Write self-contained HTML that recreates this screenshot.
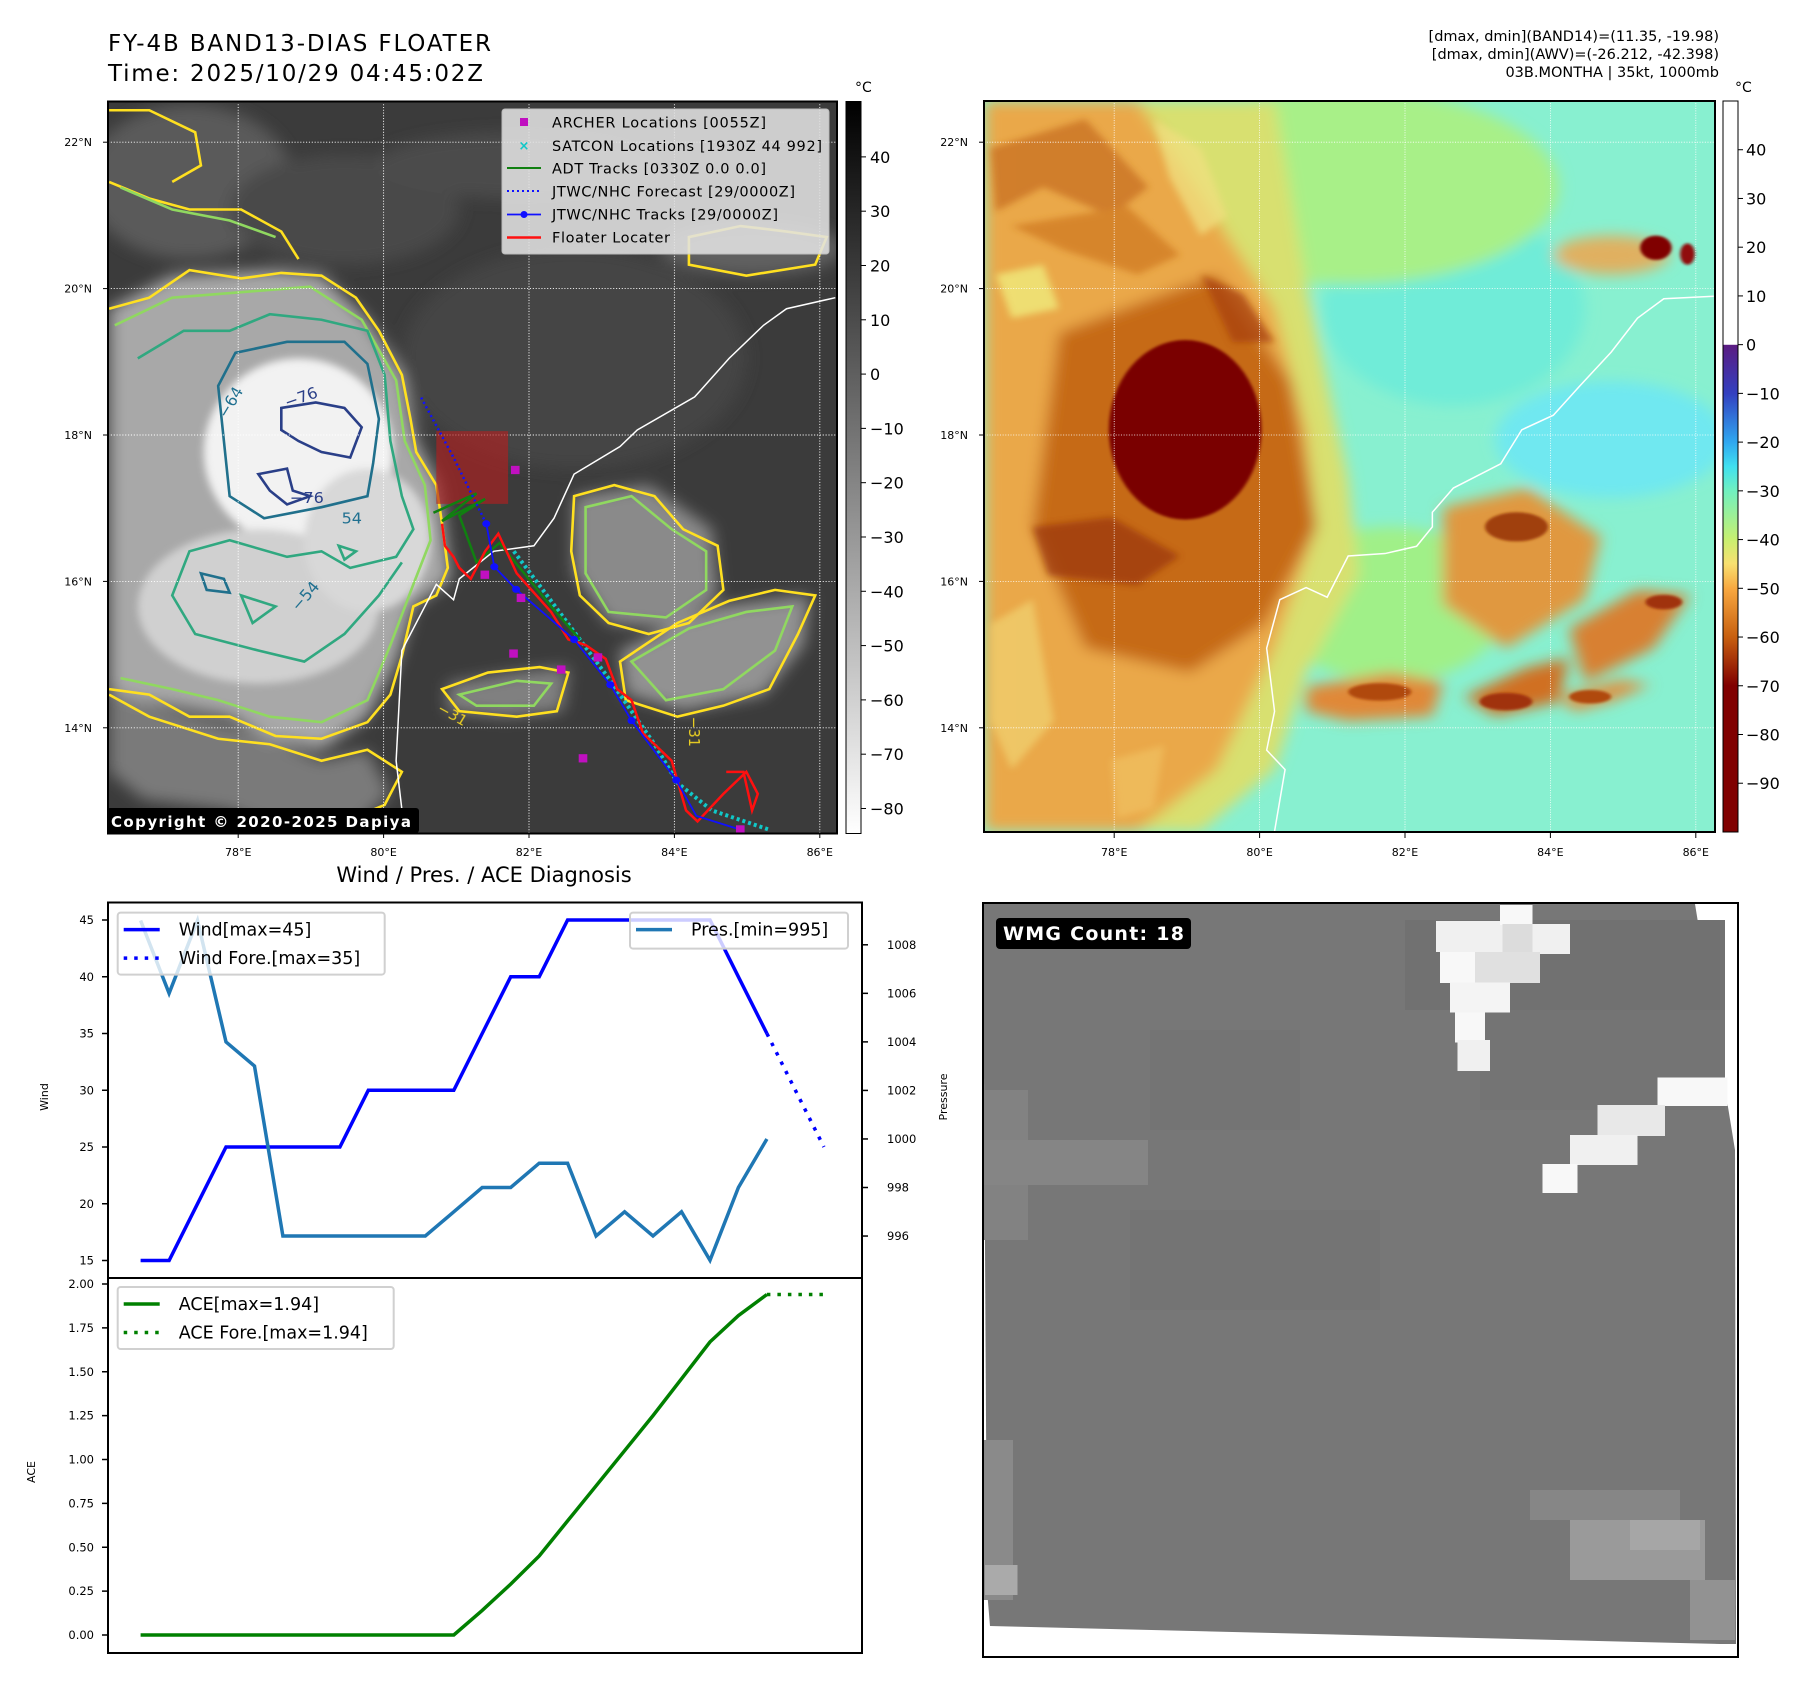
<!DOCTYPE html>
<html><head><meta charset="utf-8"><title>FY-4B Floater</title>
<style>
html,body{margin:0;padding:0;background:#fff;}
svg{display:block;font-family:"DejaVu Sans","Liberation Sans",sans-serif;}
</style></head>
<body>
<svg id="root" width="1801" height="1690" viewBox="0 0 1801 1690" xmlns="http://www.w3.org/2000/svg">
<defs>
  <filter id="blurL" x="-50%" y="-50%" width="200%" height="200%"><feGaussianBlur stdDeviation="14"/></filter>
  <filter id="blurM" x="-50%" y="-50%" width="200%" height="200%"><feGaussianBlur stdDeviation="7"/></filter>
  <filter id="blurS" x="-50%" y="-50%" width="200%" height="200%"><feGaussianBlur stdDeviation="3"/></filter>
  <linearGradient id="grayBar" x1="0" y1="0" x2="0" y2="1">
    <stop offset="0" stop-color="#000"/><stop offset="1" stop-color="#fff"/>
  </linearGradient>
  <linearGradient id="colorBar" x1="0" y1="0" x2="0" y2="1">
    <stop offset="0" stop-color="#fff"/><stop offset="0.333" stop-color="#fff"/>
    <stop offset="0.334" stop-color="#5b1c82"/><stop offset="0.40" stop-color="#3340c0"/>
    <stop offset="0.467" stop-color="#30a8f0"/><stop offset="0.50" stop-color="#40e0f0"/>
    <stop offset="0.533" stop-color="#70f0c0"/><stop offset="0.60" stop-color="#c8f070"/>
    <stop offset="0.633" stop-color="#f8e070"/><stop offset="0.667" stop-color="#f8a840"/>
    <stop offset="0.733" stop-color="#c86010"/><stop offset="0.80" stop-color="#800000"/>
    <stop offset="1" stop-color="#800000"/>
  </linearGradient>
  <clipPath id="clipL"><rect x="188" y="184" width="1270" height="1328"/></clipPath>
  <clipPath id="clipR"><rect x="8" y="22" width="1390" height="1505"/></clipPath>
  <clipPath id="clipW"><rect x="6" y="26" width="1510" height="1508"/></clipPath>
</defs>

<!-- Titles -->
<text x="108" y="51" font-size="23" textLength="383">FY-4B BAND13-DIAS FLOATER</text>
<text x="108" y="81" font-size="23" textLength="375">Time: 2025/10/29 04:45:02Z</text>
<g font-size="14.5" text-anchor="end">
  <text x="1719" y="41">[dmax, dmin](BAND14)=(11.35, -19.98)</text>
  <text x="1719" y="59">[dmax, dmin](AWV)=(-26.212, -42.398)</text>
  <text x="1719" y="77">03B.MONTHA | 35kt, 1000mb</text>
</g>

<!-- LEFT MAP -->
<g transform="scale(0.5741,0.5513)">
 <g clip-path="url(#clipL)">
  <rect x="188" y="184" width="1270" height="1328" fill="#3b3b3b"/>
  <g filter="url(#blurL)">
    <ellipse cx="330" cy="330" rx="180" ry="140" fill="#5a5a5a"/>
    <ellipse cx="1310" cy="450" rx="160" ry="50" fill="#606060"/>
    <ellipse cx="1000" cy="650" rx="300" ry="200" fill="#444"/>
    <ellipse cx="600" cy="380" rx="200" ry="100" fill="#4a4a4a"/>
    <ellipse cx="900" cy="300" rx="250" ry="60" fill="#4c4c4c"/>
    <path d="M190,560 L300,500 L480,490 L560,500 L640,580 L700,680 L725,800 L765,880 L775,960 L785,1050 L720,1100 L690,1200 L640,1300 L560,1360 L470,1340 L400,1300 L300,1280 L190,1260 Z" fill="#a8a8a8"/>
    <path d="M190,1250 L300,1290 L450,1330 L560,1380 L640,1360 L680,1440 L620,1500 L500,1510 L400,1470 L250,1450 L190,1400 Z" fill="#7a7a7a"/>
    <path d="M1000,900 L1130,880 L1240,960 L1250,1080 L1180,1140 L1060,1130 L1000,1040 Z" fill="#8a8a8a"/>
    <path d="M1080,1180 L1250,1100 L1410,1080 L1400,1170 L1330,1260 L1190,1290 L1090,1260 Z" fill="#929292"/>
    <path d="M780,1240 L900,1220 L990,1210 L980,1290 L880,1300 L780,1290 Z" fill="#808080"/>
  </g>
  <g filter="url(#blurM)">
    <ellipse cx="520" cy="820" rx="165" ry="170" fill="#f2f2f2"/>
    <ellipse cx="450" cy="1100" rx="210" ry="140" fill="#d0d0d0"/>
    <ellipse cx="640" cy="980" rx="110" ry="130" fill="#d8d8d8"/>
  </g>
  <g fill="none" stroke-width="2.6" vector-effect="non-scaling-stroke">
    <path vector-effect="non-scaling-stroke" stroke="#ffe020" d="M190,560 L260,540 L330,490 L420,505 L490,495 L560,500 L620,540 L660,600 L700,680 L715,760 L725,820 L760,880 L770,950 L780,1030 L760,1080 L720,1100 L700,1190 L680,1260 L640,1310 L560,1340 L480,1335 L400,1300 L330,1300 L260,1260 L190,1250 M190,330 L260,360 L330,380 L420,380 L490,420 L520,470 M190,1260 L260,1300 L380,1340 L470,1350 L560,1380 L640,1360 L700,1400 L670,1460 L600,1490 L530,1500 M1000,900 L1070,880 L1140,900 L1190,960 L1250,990 L1260,1070 L1200,1130 L1130,1150 L1060,1130 L1010,1080 L995,1000 Z M1080,1200 L1180,1130 L1270,1090 L1350,1070 L1420,1080 L1390,1150 L1340,1250 L1260,1280 L1180,1300 L1090,1270 Z M770,1250 L850,1220 L940,1210 L990,1220 L970,1290 L900,1300 L800,1290 Z M1200,430 L1290,410 L1370,420 L1440,430 L1420,480 L1300,500 L1200,480 Z M190,200 L260,200 L340,240 L350,300 L300,330"/>
    <path vector-effect="non-scaling-stroke" stroke="#90d860" d="M200,590 L300,540 L420,530 L540,520 L630,580 L690,690 L705,800 L740,880 L750,980 L720,1060 L680,1170 L640,1270 L560,1310 L470,1300 L380,1270 L300,1250 L210,1230 M210,340 L300,380 L400,400 L480,430 M1020,920 L1100,900 L1170,960 L1230,1000 L1230,1070 L1160,1120 L1060,1110 L1020,1040 Z M1100,1200 L1200,1140 L1300,1110 L1380,1100 L1350,1180 L1260,1250 L1160,1270 Z M800,1260 L900,1235 L960,1240 L930,1280 L830,1280 Z"/>
    <path vector-effect="non-scaling-stroke" stroke="#30a880" d="M240,650 L320,600 L400,600 L470,570 L560,580 L640,600 L670,680 L680,800 L700,900 L720,960 L690,1010 L610,1030 L560,1000 L500,1010 L400,980 L330,1000 L300,1080 L340,1150 L450,1180 L530,1200 L600,1150 L660,1080 L700,1020 M420,1080 L480,1100 L440,1130 Z M590,990 L620,1000 L600,1015 Z"/>
    <path vector-effect="non-scaling-stroke" stroke="#20708c" d="M410,640 L500,620 L600,620 L640,660 L660,760 L650,840 L640,900 L560,920 L460,940 L400,900 L390,800 L380,700 Z M350,1040 L390,1050 L400,1075 L360,1070 Z"/>
    <path vector-effect="non-scaling-stroke" stroke="#2a3f88" d="M490,740 L550,730 L600,740 L630,775 L610,830 L560,820 L520,800 L490,780 Z M450,860 L500,850 L510,890 L540,900 L500,915 L470,890 Z"/>
  </g>
  <g font-size="26" fill="#ffe020" opacity="0.9">
    <text x="760" y="1290" transform="rotate(30 760 1290)">−31</text>
    <text x="1200" y="1300" transform="rotate(90 1200 1300)">−31</text>
  </g>
  <g font-size="28" fill="#2a3f88"><text x="500" y="740" transform="rotate(-20 500 740)">−76</text><text x="505" y="912">−76</text></g>
  <g font-size="28" fill="#207090"><text x="395" y="760" transform="rotate(-60 395 760)">−64</text><text x="520" y="1110" transform="rotate(-50 520 1110)">−54</text><text x="595" y="950">54</text></g>
  <g id="gridL" stroke="#fff" stroke-width="1.6" stroke-dasharray="2,3" vector-effect="non-scaling-stroke"></g>
  <polyline vector-effect="non-scaling-stroke" fill="none" stroke="#fff" stroke-width="1.5" points="705,1512 690,1380 700,1180 760,1060 790,1088 800,1050 860,1000 930,990 965,940 1000,860 1080,810 1110,780 1210,720 1270,650 1330,590 1370,560 1455,540"/>
  <rect x="760" y="782" width="125" height="132" fill="#b02020" opacity="0.65"/>
  <polyline vector-effect="non-scaling-stroke" fill="none" stroke="#10c8c8" stroke-width="4" stroke-dasharray="3,3" points="895,1000 960,1090 1010,1160 1060,1230 1100,1290 1140,1350 1180,1420 1240,1470 1340,1505"/>
  <polyline vector-effect="non-scaling-stroke" fill="none" stroke="#108010" stroke-width="2.5" points="755,930 830,895 770,945 845,905 800,935 830,1020 870,985 960,1100 1010,1160"/>
  <polyline vector-effect="non-scaling-stroke" fill="none" stroke="#ff1010" stroke-width="2.5" points="770,950 775,990 790,1010 800,1030 820,1050 845,1000 868,968 900,1040 960,1110 990,1160 1020,1170 1055,1195 1075,1250 1100,1270 1120,1330 1140,1350 1170,1380 1195,1470 1215,1490 1260,1440 1300,1400 1320,1440 1310,1470 1295,1400 1265,1400 M800,860 L860,810 L820,880 L860,840 L830,900 L860,880 M1130,1390 L1150,1420 L1170,1440"/>
  <polyline vector-effect="non-scaling-stroke" fill="none" stroke="#1010ff" stroke-width="2.5" stroke-dasharray="2,3" points="847,950 790,830 733,720"/>
  <polyline vector-effect="non-scaling-stroke" fill="none" stroke="#1010ff" stroke-width="1.8" points="847,950 861,1028 899,1069 1000,1160 1063,1242 1100,1307 1178,1415 1213,1480 1290,1505"/>
  <g fill="#1010ff">
    <ellipse cx="847" cy="950" rx="7" ry="6.5"/><ellipse cx="861" cy="1028" rx="7" ry="6.5"/><ellipse cx="899" cy="1069" rx="7" ry="6.5"/><ellipse cx="1000" cy="1160" rx="7" ry="6.5"/><ellipse cx="1063" cy="1242" rx="7" ry="6.5"/><ellipse cx="1100" cy="1307" rx="7" ry="6.5"/><ellipse cx="1178" cy="1415" rx="7" ry="6.5"/>
  </g>
  <g fill="#c010c0">
    <rect x="890" y="845" width="15" height="15"/><rect x="837" y="1035" width="15" height="15"/><rect x="900" y="1077" width="15" height="15"/><rect x="887" y="1178" width="15" height="15"/><rect x="970" y="1207" width="15" height="15"/><rect x="1034" y="1185" width="15" height="15"/><rect x="1008" y="1368" width="15" height="15"/><rect x="1282" y="1497" width="15" height="15"/>
  </g>
 </g>
</g>
<rect x="108" y="101.5" width="729" height="732" fill="none" stroke="#000" stroke-width="2"/>
<rect x="107" y="808" width="312" height="25" rx="3" fill="#000"/>
<text x="111" y="827" font-size="15" font-weight="bold" fill="#fff" textLength="300">Copyright © 2020-2025 Dapiya</text>

<g>
  <rect x="502" y="109" width="327" height="145" rx="3" fill="#e2e2e2" opacity="0.88" stroke="#ccc"/>
  <rect x="520" y="118" width="8" height="8" fill="#c010c0"/>
  <text x="524" y="150" font-size="13" font-weight="bold" fill="#10c8c8" text-anchor="middle">×</text>
  <line x1="507" y1="168" x2="541" y2="168" stroke="#108010" stroke-width="2"/>
  <line x1="507" y1="191" x2="541" y2="191" stroke="#1010ff" stroke-width="2" stroke-dasharray="2,3"/>
  <line x1="507" y1="214.5" x2="541" y2="214.5" stroke="#1010ff" stroke-width="1.8"/><circle cx="524" cy="214.5" r="3.5" fill="#1010ff"/>
  <line x1="507" y1="237.5" x2="541" y2="237.5" stroke="#ff1010" stroke-width="2.5"/>
  <g font-size="14.5">
    <text x="552" y="127.5" textLength="214">ARCHER Locations [0055Z]</text>
    <text x="552" y="151" textLength="270">SATCON Locations [1930Z 44 992]</text>
    <text x="552" y="173.5" textLength="214">ADT Tracks [0330Z 0.0 0.0]</text>
    <text x="552" y="196.5" textLength="243">JTWC/NHC Forecast [29/0000Z]</text>
    <text x="552" y="219.5" textLength="226">JTWC/NHC Tracks [29/0000Z]</text>
    <text x="552" y="242.5" textLength="118">Floater Locater</text>
  </g>
</g>

<rect x="846" y="101.5" width="15" height="732" fill="url(#grayBar)" stroke="#000" stroke-width="1"/>
<text x="855" y="92" font-size="14">°C</text>
<g id="cbL" font-size="16"></g>
<g id="ticksL" font-size="11"></g>

<!-- RIGHT MAP -->
<g transform="translate(980,90) scale(0.526,0.4854)">
 <g clip-path="url(#clipR)">
  <rect x="8" y="22" width="1390" height="1505" fill="#88f0d0"/>
  <g filter="url(#blurL)">
    <ellipse cx="1200" cy="720" rx="220" ry="120" fill="#70e8f0"/>
    <ellipse cx="900" cy="450" rx="250" ry="200" fill="#70ecd8"/>
    <ellipse cx="700" cy="200" rx="400" ry="200" fill="#a8f088"/>
    <ellipse cx="780" cy="1060" rx="220" ry="160" fill="#a0f088"/>
    <path d="M8,22 L560,22 L620,400 L700,800 L720,1000 L620,1200 L560,1400 L420,1527 L8,1527 Z" fill="#d8e070"/>
    <path d="M8,22 L300,22 L440,250 L560,450 L620,700 L640,900 L560,1150 L450,1400 L300,1527 L8,1527 Z" fill="#eaa848"/>
    <path d="M150,500 L450,380 L590,600 L640,900 L540,1100 L400,1200 L200,1150 L100,900 Z" fill="#c66a18"/>
    <path d="M880,860 L1040,820 L1180,920 L1150,1050 L1000,1150 L880,1060 Z" fill="#e09840"/>
    <path d="M1120,1110 L1250,1030 L1350,1040 L1280,1150 L1150,1220 Z" fill="#d88030"/>
    <path d="M620,1230 L780,1200 L880,1220 L860,1290 L700,1300 L620,1280 Z" fill="#e08838"/>
    <path d="M920,1250 L1040,1190 L1120,1170 L1100,1260 L980,1290 Z" fill="#d07020"/>
    <path d="M1100,1250 L1220,1215 L1275,1225 L1200,1260 L1130,1280 Z" fill="#e09040"/>
    <ellipse cx="1200" cy="340" rx="110" ry="40" fill="#e0b060"/>
  </g>
  <g filter="url(#blurM)" opacity="0.75">
    <path d="M20,120 L200,60 L320,200 L250,260 L120,200 L30,250 Z" fill="#c87020"/>
    <path d="M60,280 L280,240 L380,340 L300,380 L160,330 Z" fill="#d07a20"/>
    <path d="M30,380 L120,360 L150,450 L60,470 Z" fill="#f0f080"/>
    <path d="M20,1100 L100,1050 L140,1300 L60,1400 L20,1300 Z" fill="#f0d070"/>
    <path d="M250,1380 L350,1350 L330,1480 L260,1500 Z" fill="#f0c060"/>
    <path d="M330,60 L420,120 L470,260 L420,300 L360,180 Z" fill="#f0e080"/>
    <path d="M100,900 L250,880 L380,960 L300,1020 L130,1000 Z" fill="#9c3808"/>
    <path d="M420,380 L500,420 L560,520 L480,520 Z" fill="#a84008"/>
  </g>
  <g filter="url(#blurS)">
    <ellipse cx="390" cy="700" rx="145" ry="185" fill="#7a0000"/>
    <ellipse cx="1285" cy="325" rx="30" ry="25" fill="#800000"/>
    <ellipse cx="1345" cy="338" rx="14" ry="22" fill="#900808"/>
    <ellipse cx="1020" cy="900" rx="60" ry="30" fill="#a04010"/>
    <ellipse cx="1000" cy="1260" rx="50" ry="18" fill="#a03008"/>
    <ellipse cx="1300" cy="1055" rx="35" ry="15" fill="#a03008"/>
    <ellipse cx="760" cy="1240" rx="60" ry="18" fill="#b04a10"/>
    <ellipse cx="1160" cy="1250" rx="40" ry="14" fill="#b04a10"/>
  </g>
  <g id="gridR" stroke="#fff" stroke-width="1.6" stroke-dasharray="2,3"></g>
  <polyline vector-effect="non-scaling-stroke" fill="none" stroke="#fff" stroke-width="1.5" points="560,1527 580,1400 545,1360 560,1280 545,1150 570,1050 620,1025 660,1045 700,960 770,955 830,940 860,900 860,870 900,820 990,770 1030,700 1090,670 1140,610 1200,540 1250,470 1300,430 1395,425"/>
 </g>
</g>
<rect x="984" y="101" width="731" height="731" fill="none" stroke="#000" stroke-width="2"/>
<rect x="1723" y="101" width="15" height="731" fill="url(#colorBar)" stroke="#000" stroke-width="1"/>
<text x="1735" y="92" font-size="14">°C</text>
<g id="cbR" font-size="16"></g>
<g id="ticksR" font-size="11"></g>

<text x="484" y="882" font-size="21" text-anchor="middle">Wind / Pres. / ACE Diagnosis</text>
<g id="chart"></g>

<!-- WMG panel -->
<g transform="translate(980,890) scale(0.5)">
 <g clip-path="url(#clipW)">
  <rect x="6" y="26" width="1510" height="1508" fill="#fff"/>
  <polygon points="6,28 1430,28 1510,520 1512,1508 1480,1508 20,1472 14,1400" fill="#777"/>
  <g>
    <rect x="6" y="400" width="90" height="300" fill="#828282"/>
    <rect x="6" y="500" width="330" height="90" fill="#858585"/>
    <rect x="6" y="1100" width="60" height="320" fill="#8a8a8a"/>
    <rect x="10" y="1350" width="65" height="60" fill="#aaa"/>
    <rect x="1180" y="1260" width="270" height="120" fill="#9a9a9a"/>
    <rect x="1300" y="1260" width="140" height="60" fill="#a6a6a6"/>
    <rect x="1420" y="1380" width="90" height="120" fill="#929292"/>
    <rect x="1100" y="1200" width="300" height="60" fill="#868686"/>
    <rect x="850" y="60" width="640" height="180" fill="#717171"/>
    <rect x="1000" y="240" width="490" height="200" fill="#747474"/>
    <rect x="340" y="280" width="300" height="200" fill="#747474"/>
    <rect x="300" y="640" width="500" height="200" fill="#747474"/>
  </g>
  <g>
    <rect x="912" y="62" width="135" height="62" fill="#f0f0f0"/>
    <rect x="1040" y="30" width="65" height="40" fill="#f8f8f8"/>
    <rect x="1045" y="68" width="65" height="60" fill="#dcdcdc"/>
    <rect x="1105" y="68" width="75" height="60" fill="#f0f0f0"/>
    <rect x="920" y="124" width="75" height="62" fill="#f8f8f8"/>
    <rect x="990" y="124" width="130" height="62" fill="#e0e0e0"/>
    <rect x="940" y="185" width="120" height="60" fill="#f4f4f4"/>
    <rect x="950" y="245" width="60" height="60" fill="#f8f8f8"/>
    <rect x="955" y="300" width="65" height="62" fill="#f0f0f0"/>
    <rect x="1355" y="375" width="140" height="57" fill="#f8f8f8"/>
    <rect x="1235" y="430" width="135" height="62" fill="#e8e8e8"/>
    <rect x="1180" y="490" width="135" height="60" fill="#f0f0f0"/>
    <rect x="1125" y="548" width="70" height="58" fill="#f8f8f8"/>
  </g>
 </g>
 <rect x="6" y="26" width="1510" height="1508" fill="none" stroke="#000" stroke-width="4"/>
 <rect x="32" y="56" width="390" height="62" rx="8" fill="#000"/>
 <text x="46" y="100" font-size="38" font-weight="bold" fill="#fff" textLength="362">WMG Count: 18</text>
</g>

<script>
const windObs = [15,15,20,25,25,25,25,25,30,30,30,30,35,40,40,45,45,45,45,45,45,40,35];
const windFore = [35,30,25];
const presObs = [1009,1006,1009,1004,1003,996,996,996,996,996,996,997,998,998,999,999,996,997,996,997,995,998,1000];
const aceObs = [0,0,0,0,0,0,0,0,0,0,0,0,0.14,0.29,0.45,0.65,0.85,1.05,1.25,1.46,1.67,1.82,1.94];
const aceFore = [1.94,1.94,1.94];
const windTicks = [15,20,25,30,35,40,45];
const presTicks = [996,998,1000,1002,1004,1006,1008];
const aceTicks = [0,0.25,0.5,0.75,1,1.25,1.5,1.75,2];
const lonTicks = [78,80,82,84,86];
const latTicks = [14,16,18,20,22];
const irBarTicks = [40,30,20,10,0,-10,-20,-30,-40,-50,-60,-70,-80];
const wvBarTicks = [40,30,20,10,0,-10,-20,-30,-40,-50,-60,-70,-80,-90];

const NS = 'http://www.w3.org/2000/svg';
function mk(tag, attrs, parent){const e=document.createElementNS(NS,tag);for(const k in attrs)e.setAttribute(k,attrs[k]);if(parent)parent.appendChild(e);return e;}
function fmtNeg(v){return v<0?'\u2212'+Math.abs(v):String(v);}

const X0=108,X1=862;
const xScale=i=>X0+(i+1.145)*(X1-X0)/26.485;
const yWind=v=>920+(45-v)*11.35;
const yPres=p=>944.8+(1008-p)*24.27;
const yAce=a=>1635-a*175.5;

const chart=document.getElementById('chart');
function poly(vals,start,yf,stroke,w,dash,name){
  const pts=vals.map((v,k)=>xScale(start+k).toFixed(1)+','+yf(v).toFixed(1)).join(' ');
  const p=mk('polyline',{points:pts,fill:'none',stroke:stroke,'stroke-width':w,'stroke-linejoin':'miter'},chart);
  if(dash)p.setAttribute('stroke-dasharray',dash);
  
  
  return p;
}
const f1=mk('rect',{x:X0,y:902.5,width:X1-X0,height:375.5,fill:'#fff',stroke:'#000','stroke-width':2},chart);


const f2=mk('rect',{x:X0,y:1278,width:X1-X0,height:375,fill:'#fff',stroke:'#000','stroke-width':2},chart);



windTicks.forEach(v=>{const y=yWind(v);mk('line',{x1:X0-6,x2:X0,y1:y,y2:y,stroke:'#000','stroke-width':1.5},chart);
  const t=mk('text',{x:X0-14,y:y+4,'font-size':11.5,'text-anchor':'end'},chart);t.textContent=v;
  
  });
presTicks.forEach(v=>{const y=yPres(v);mk('line',{x1:X1,x2:X1+6,y1:y,y2:y,stroke:'#000','stroke-width':1.5},chart);
  const t=mk('text',{x:X1+25,y:y+4,'font-size':11.5},chart);t.textContent=v;
  
  });
aceTicks.forEach(v=>{const y=yAce(v);mk('line',{x1:X0-6,x2:X0,y1:y,y2:y,stroke:'#000','stroke-width':1.5},chart);
  const t=mk('text',{x:X0-14,y:y+4,'font-size':11.5,'text-anchor':'end'},chart);t.textContent=v.toFixed(2);
  
  });
const at1=mk('text',{x:48,y:1097,'font-size':11,'text-anchor':'middle',transform:'rotate(-90 48 1097)'},chart);at1.textContent='Wind';


const at2=mk('text',{x:947,y:1097,'font-size':11,'text-anchor':'middle',transform:'rotate(-90 947 1097)'},chart);at2.textContent='Pressure';


const at3=mk('text',{x:35,y:1472,'font-size':11,'text-anchor':'middle',transform:'rotate(-90 35 1472)'},chart);at3.textContent='ACE';



poly(windObs,0,yWind,'#0000ff',3.5,null,'wind-line');
poly(windFore,windObs.length-1,yWind,'#0000ff',3.5,'3.5,7','wind-forecast-line');
poly(presObs,0,yPres,'#1f77b4',3.5,null,'pressure-line');
poly(aceObs,0,yAce,'#008000',3.5,null,'ace-line');
poly(aceFore,aceObs.length-1,yAce,'#008000',3.5,'3.5,7','ace-forecast-line');

function legend(x,y,w,h,items,name){
  const g=mk('g',{},chart);
  
  
  mk('rect',{x:x,y:y,width:w,height:h,rx:3,fill:'#fff','fill-opacity':0.8,stroke:'#d0d0d0','stroke-width':2},g);
  items.forEach((it,k)=>{const yy=y+17+k*28.5;
    const l=mk('line',{x1:x+6,x2:x+42,y1:yy,y2:yy,stroke:it.c,'stroke-width':3.5},g);
    if(it.d)l.setAttribute('stroke-dasharray','3.5,7');
    const t=mk('text',{x:x+61,y:yy+6,'font-size':17.5},g);t.textContent=it.t;});
}
legend(117.7,912.6,267,62,[{c:'#0000ff',t:'Wind[max=45]'},{c:'#0000ff',t:'Wind Fore.[max=35]',d:1}],'wind-legend');
legend(630,912.6,218,36,[{c:'#1f77b4',t:'Pres.[min=995]'}],'pressure-legend');
legend(117.7,1287,276,62,[{c:'#008000',t:'ACE[max=1.94]'},{c:'#008000',t:'ACE Fore.[max=1.94]',d:1}],'ace-legend');

const lonX=lon=>238.2+(lon-78)*72.7;
const latY=lat=>142.2+(22-lat)*73.2;
const gl=document.getElementById('gridL'), gr=document.getElementById('gridR');
const sxL=1/0.5741, syL=1/0.5513, sxR=1/0.526, syR=1/0.4854;
lonTicks.forEach(lon=>{
  const x=lonX(lon);
  mk('line',{x1:x*sxL,x2:x*sxL,y1:184,y2:1512},gl);
  const xr=x+876;
  mk('line',{x1:(xr-980)*sxR,x2:(xr-980)*sxR,y1:22,y2:1527},gr);
  [[x,'ticksL'],[xr,'ticksR']].forEach(([xx,id])=>{
    const g=document.getElementById(id);
    mk('line',{x1:xx,x2:xx,y1:833,y2:838,stroke:'#000'},g);
    const t=mk('text',{x:xx,y:856,'text-anchor':'middle'},g);t.textContent=lon+'°E';
    
    
  });
});
latTicks.forEach(lat=>{
  const y=latY(lat);
  mk('line',{x1:188,x2:1458,y1:y*syL,y2:y*syL},gl);
  mk('line',{x1:8,x2:1398,y1:(y-90)*syR,y2:(y-90)*syR},gr);
  [[108,'ticksL'],[984,'ticksR']].forEach(([xx,id])=>{
    const g=document.getElementById(id);
    mk('line',{x1:xx-5,x2:xx,y1:y,y2:y,stroke:'#000'},g);
    const t=mk('text',{x:xx-16,y:y+4,'text-anchor':'end'},g);t.textContent=lat+'°N';
    
    
  });
});
const irY=v=>101.5+(50.2-v)*5.43;
irBarTicks.forEach(v=>{const g=document.getElementById('cbL');const y=irY(v);
  mk('line',{x1:861,x2:866,y1:y,y2:y,stroke:'#000'},g);
  const t=mk('text',{x:870,y:y+6},g);t.textContent=fmtNeg(v);
  
  });
const wvY=v=>101+(50-v)*4.873;
wvBarTicks.forEach(v=>{const g=document.getElementById('cbR');const y=wvY(v);
  mk('line',{x1:1738,x2:1743,y1:y,y2:y,stroke:'#000'},g);
  const t=mk('text',{x:1746,y:y+6},g);t.textContent=fmtNeg(v);
  
  });
</script>
</svg>
</body></html>
